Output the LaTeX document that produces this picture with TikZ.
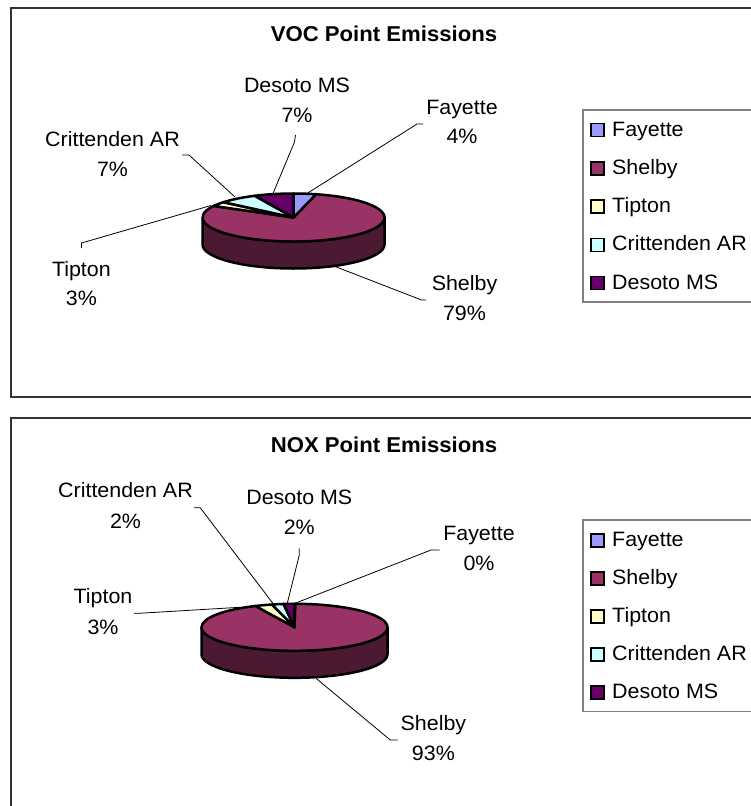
\documentclass[tikz,border=0pt]{standalone}
\usepackage{fontspec}
\setmainfont{Liberation Sans}[FakeStretch=1.03]
\definecolor{cfay}{HTML}{9999FF}
\definecolor{cshe}{HTML}{993366}
\definecolor{csheside}{HTML}{4C1933}
\definecolor{ctip}{HTML}{FFFFCC}
\definecolor{ccri}{HTML}{CCFFFF}
\definecolor{cdes}{HTML}{660066}
\definecolor{cframe}{HTML}{333333}
\definecolor{clegend}{HTML}{808080}
\newcommand\lblfont{\fontsize{20.8}{24}\selectfont}
\newcommand\ttlfont{\fontsize{21.5}{25}\selectfont\bfseries}
\tikzset{
  lbl/.style={font=\lblfont, anchor=base, inner sep=0pt},
  legtxt/.style={font=\lblfont, anchor=base west, inner sep=0pt},
  ttl/.style={font=\ttlfont, anchor=base, inner sep=0pt},
  leader/.style={draw=black, line width=0.8pt},
  pieline/.style={draw=black, line width=2.5pt, line join=round},
  legsq/.style={draw=black, line width=1.4pt, minimum size=13pt, inner sep=0pt},
  chartframe/.style={draw=cframe, line width=2pt},
  legframe/.style={draw=clegend, line width=1.2pt},
}
\begin{document}
\begin{tikzpicture}[x=1pt,y=-1pt]
\useasboundingbox (0,0) rectangle (751,806);
\clip (0,0) rectangle (751,806);

% ================= VOC chart =================
\draw[chartframe] (11,7.5) rectangle (770,397.3);
\node[ttl] (t1) at (384,41.7) {VOC Point Emissions};

\begin{scope}[shift={(293.5,217.5)}]
  \filldraw[fill=csheside, pieline] (91,0) arc[start angle=0,end angle=180,x radius=91,y radius=24]
     -- (-91,27) arc[start angle=180,end angle=0,x radius=91,y radius=24] -- cycle;
  \filldraw[fill=cshe, pieline] (0,0) -- (-75.6:91 and 24) arc[start angle=-75.6,end angle=208.8,x radius=91,y radius=24] -- cycle;
  \filldraw[fill=ctip, pieline] (0,0) -- (208.8:91 and 24) arc[start angle=208.8,end angle=219.6,x radius=91,y radius=24] -- cycle;
  \filldraw[fill=ccri, pieline] (0,0) -- (219.6:91 and 24) arc[start angle=219.6,end angle=244.8,x radius=91,y radius=24] -- cycle;
  \filldraw[fill=cdes, pieline] (0,0) -- (244.8:91 and 24) arc[start angle=244.8,end angle=270,x radius=91,y radius=24] -- cycle;
  \filldraw[fill=cfay, pieline] (0,0) -- (-90:91 and 24) arc[start angle=-90,end angle=-75.6,x radius=91,y radius=24] -- cycle;
\end{scope}

\coordinate (af1) at (307,193.5); \coordinate (bf1) at (417,124); \coordinate (cf1) at (423,124);
\coordinate (ad1) at (273,193.5); \coordinate (bd1) at (294.5,142); \coordinate (cd1) at (295.5,135);
\coordinate (ac1) at (235,197); \coordinate (bc1) at (189,155); \coordinate (cc1) at (182,155);
\coordinate (at1) at (211,205.5); \coordinate (bt1) at (81.5,243); \coordinate (ct1) at (81.5,248);
\coordinate (as1) at (333,265.7); \coordinate (bs1) at (421.5,300); \coordinate (cs1) at (426,300);
\draw[leader] (af1) -- (bf1) -- (cf1);
\draw[leader] (ad1) -- (bd1) -- (cd1);
\draw[leader] (ac1) -- (bc1) -- (cc1);
\draw[leader] (at1) -- (bt1) -- (ct1);
\draw[leader] (as1) -- (bs1) -- (cs1);

\node[lbl] (ld1a) at (297,92) {Desoto MS};
\node[lbl] (ld1b) at (297,122.3) {7\%};
\node[lbl] (lf1a) at (462,114) {Fayette};
\node[lbl] (lf1b) at (462,143.5) {4\%};
\node[lbl] (lc1a) at (112.5,146.5) {Crittenden AR};
\node[lbl] (lc1b) at (112.5,176) {7\%};
\node[lbl] (lt1a) at (81.4,276) {Tipton};
\node[lbl] (lt1b) at (81.4,305.5) {3\%};
\node[lbl] (ls1a) at (464.5,290.7) {Shelby};
\node[lbl] (ls1b) at (464.5,320) {79\%};

\draw[legframe] (583,110) rectangle (770,302);
\node[legsq, fill=cfay] (q1a) at (597.5,130) {};
\node[legsq, fill=cshe] (q1b) at (597.5,168.3) {};
\node[legsq, fill=ctip] (q1c) at (597.5,206.6) {};
\node[legsq, fill=ccri] (q1d) at (597.5,244.9) {};
\node[legsq, fill=cdes] (q1e) at (597.5,283.2) {};
\node[legtxt] (g1a) at (612,136) {Fayette};
\node[legtxt] (g1b) at (612,174.3) {Shelby};
\node[legtxt] (g1c) at (612,212.6) {Tipton};
\node[legtxt] (g1d) at (612,250.9) {Crittenden AR};
\node[legtxt] (g1e) at (612,289.2) {Desoto MS};

% ================= NOX chart =================
\draw[chartframe] (11,418.3) rectangle (770,830);
\node[ttl] (t2) at (384,452.3) {NOX Point Emissions};

\begin{scope}[shift={(294.5,627.3)}]
  \filldraw[fill=csheside, pieline] (93,0) arc[start angle=0,end angle=180,x radius=93,y radius=23.5]
     -- (-93,27) arc[start angle=180,end angle=0,x radius=93,y radius=23.5] -- cycle;
  \filldraw[fill=cshe, pieline] (0,0) -- (-89.6:93 and 23.5) arc[start angle=-89.6,end angle=245.2,x radius=93,y radius=23.5] -- cycle;
  \filldraw[fill=ctip, pieline] (0,0) -- (245.2:93 and 23.5) arc[start angle=245.2,end angle=256,x radius=93,y radius=23.5] -- cycle;
  \filldraw[fill=ccri, pieline] (0,0) -- (256:93 and 23.5) arc[start angle=256,end angle=263.2,x radius=93,y radius=23.5] -- cycle;
  \filldraw[fill=cdes, pieline] (0,0) -- (263.2:93 and 23.5) arc[start angle=263.2,end angle=270,x radius=93,y radius=23.5] -- cycle;
  \filldraw[fill=cfay, pieline] (0,0) -- (-90:93 and 23.5) arc[start angle=-90,end angle=-89.6,x radius=93,y radius=23.5] -- cycle;
\end{scope}

\coordinate (af2) at (294.5,603.5); \coordinate (bf2) at (431,550); \coordinate (cf2) at (439.7,550);
\coordinate (ad2) at (287.4,603); \coordinate (bd2) at (299.3,555); \coordinate (cd2) at (299.3,548.3);
\coordinate (ac2) at (273,603.5); \coordinate (bc2) at (200.2,507.7); \coordinate (cc2) at (194,507.7);
\coordinate (at2) at (239.5,607.3); \coordinate (bt2) at (139,613.3); \coordinate (ct2) at (134,613.3);
\coordinate (as2) at (316,678.3); \coordinate (bs2) at (390.3,740); \coordinate (cs2) at (397.5,740);
\draw[leader] (af2) -- (bf2) -- (cf2);
\draw[leader] (ad2) -- (bd2) -- (cd2);
\draw[leader] (ac2) -- (bc2) -- (cc2);
\draw[leader] (at2) -- (bt2) -- (ct2);
\draw[leader] (as2) -- (bs2) -- (cs2);

\node[lbl] (lc2a) at (125.5,497.7) {Crittenden AR};
\node[lbl] (lc2b) at (125.5,528.3) {2\%};
\node[lbl] (ld2a) at (299.3,504) {Desoto MS};
\node[lbl] (ld2b) at (299.3,534) {2\%};
\node[lbl] (lf2a) at (479,540) {Fayette};
\node[lbl] (lf2b) at (479,570) {0\%};
\node[lbl] (lt2a) at (103,603.3) {Tipton};
\node[lbl] (lt2b) at (103,634) {3\%};
\node[lbl] (ls2a) at (433.4,730) {Shelby};
\node[lbl] (ls2b) at (433.4,760) {93\%};

\draw[legframe] (583,520) rectangle (770,711.7);
\node[legsq, fill=cfay] (q2a) at (597.5,540.5) {};
\node[legsq, fill=cshe] (q2b) at (597.5,578.5) {};
\node[legsq, fill=ctip] (q2c) at (597.5,616.5) {};
\node[legsq, fill=ccri] (q2d) at (597.5,654.5) {};
\node[legsq, fill=cdes] (q2e) at (597.5,692.5) {};
\node[legtxt] (g2a) at (612,546.5) {Fayette};
\node[legtxt] (g2b) at (612,584.5) {Shelby};
\node[legtxt] (g2c) at (612,622.5) {Tipton};
\node[legtxt] (g2d) at (612,660.5) {Crittenden AR};
\node[legtxt] (g2e) at (612,698.5) {Desoto MS};
\end{tikzpicture}
\end{document}
